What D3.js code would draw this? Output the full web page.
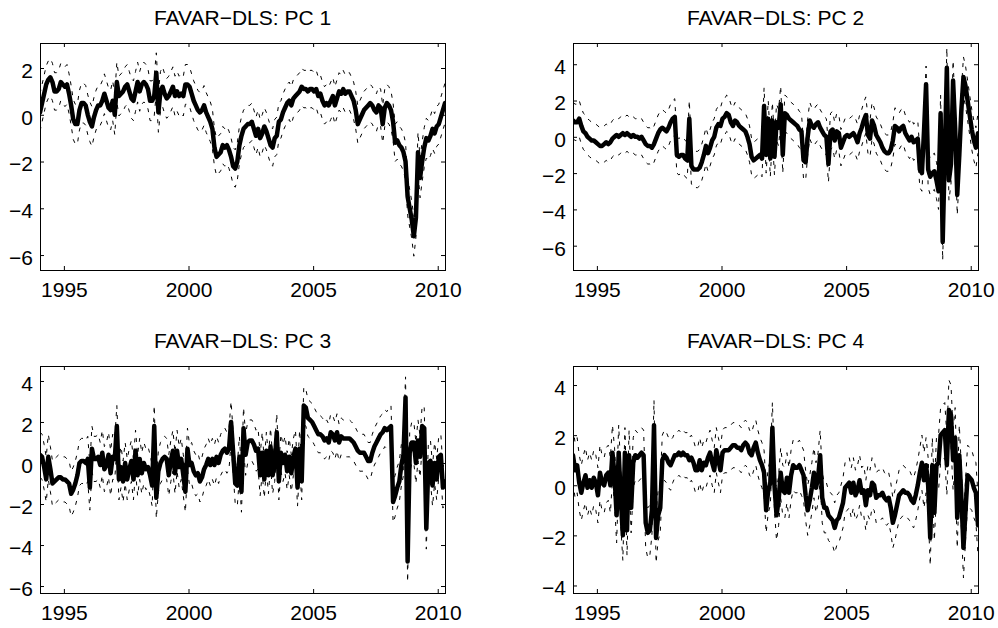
<!DOCTYPE html>
<html>
<head>
<meta charset="utf-8">
<script src="https://cdn.jsdelivr.net/npm/d3@7"></script>
<style>
  body { margin: 0; background: #fff; }
  svg { display: block; }
  text { font-family: "Liberation Sans", Arial, Helvetica, sans-serif; fill: #000; }
</style>
</head>
<body>
<svg id="chart" width="998" height="628"></svg>
<script>
// ---------------- DATA (monthly, first observation Jan 1994) ----------------
const startYear = 1994;

const pc1 = [
  0.1, 0.5, 0.9, 1.3, 1.5, 1.6, 1.4, 1.0, 1.0, 1.1, 1.4, 1.3,
  1.2, 1.3, 0.9, 0.4, -0.2, -0.4, -0.4, 0.2, 0.5, 0.5, 0.4, 0.0,
  -0.3, -0.5, -0.1, 0.2, 0.4, 0.4, 0.6, 0.9, 0.6, 0.3, 0.2, 0.6,
  0.0, 1.4, 0.8, 0.9, 1.0, 1.2, 1.3, 1.0, 0.7, 0.6, 1.0, 1.4,
  1.0, 1.3, 1.4, 1.3, 1.1, 0.6, 0.6, 0.8, 1.8, 0.1, 1.0, 1.2,
  0.9, 0.7, 0.8, 1.0, 1.2, 0.8, 1.0, 0.8, 0.9, 0.8, 1.3, 1.3,
  1.2, 0.9, 0.6, 0.4, 0.2, 0.1, 0.2, 0.4, 0.1, -0.1, -0.3, -0.6,
  -1.4, -1.8, -1.7, -1.6, -1.3, -1.4, -1.3, -1.5, -1.8, -2.2, -2.3, -2.0,
  -1.3, -0.9, -0.6, -0.5, -0.4, -0.4, -0.3, -0.6, -0.9, -0.6, -1.0, -0.8,
  -0.5, -0.7, -1.0, -1.3, -1.4, -1.0, -0.9, -0.3, -0.2, 0.1, 0.3, 0.5,
  0.6, 0.4, 0.7, 0.8, 0.9, 1.0, 1.2, 1.1, 1.1, 1.0, 1.1, 1.1,
  1.0, 1.1, 0.8, 0.9, 0.6, 0.4, 0.5, 0.4, 0.6, 0.8, 0.4, 0.7,
  1.0, 0.9, 1.1, 0.9, 1.0, 1.0, 0.8, 0.6, 0.2, -0.4, -0.2, 0.0,
  0.2, 0.3, 0.4, 0.5, 0.4, 0.2, 0.1, 0.4, 0.3, -0.4, 0.3, 0.5,
  0.4, 0.2, -0.3, -1.2, -1.1, -1.3, -1.4, -1.6, -2.0, -3.5, -4.0, -4.5,
  -5.2, -4.4, -1.6, -2.7, -2.0, -1.4, -1.0, -1.1, -0.9, -0.6, -0.8, -0.5,
  -0.4, -0.1, 0.2, 0.5
];

const pc2 = [
  0.9, 0.8, 0.8, 1.0, 0.6, 0.3, 0.2, 0.0, -0.1, -0.2, -0.2, -0.3,
  -0.4, -0.5, -0.5, -0.4, -0.3, -0.4, -0.3, -0.1, 0.0, 0.1, 0.0, 0.1,
  0.2, 0.1, 0.2, 0.1, 0.0, 0.1, 0.0, 0.0, -0.1, 0.0, -0.2, -0.4,
  -0.5, -0.5, -0.6, -0.4, -0.1, 0.2, 0.4, 0.5, 0.4, 0.3, 0.5, 0.8,
  1.0, 1.1, -1.0, -1.1, -1.0, -1.0, -1.2, -1.3, 1.0, -1.6, -1.8, -1.8,
  -1.8, -1.7, -1.4, -1.0, -0.5, -0.9, -0.6, -0.2, 0.0, 0.5, 0.7, 0.6,
  1.0, 1.1, 1.3, 1.2, 0.8, 0.6, 0.9, 0.8, 0.6, 0.5, 0.4, 0.3,
  0.0, -0.4, -1.1, -1.3, -1.2, -1.1, -1.0, -1.2, 1.7, -1.0, 1.0, -1.2,
  0.9, -1.1, 0.8, 0.5, 1.8, -1.0, 1.3, 1.2, 1.0, 0.9, 0.8, 0.7,
  0.6, 0.4, 0.3, -1.3, -1.4, 0.0, 0.9, 0.6, 0.5, 0.7, 0.8, 0.5,
  0.3, 0.1, 0.0, -1.5, 0.3, 0.4, -0.2, 0.3, 0.2, -0.6, -0.3, 0.0,
  0.1, 0.0, 0.1, 0.2, 0.0, -0.3, 0.2, 0.5, 0.9, 1.2, 0.1, -0.1,
  0.9, 0.6, 0.1, -0.1, -0.3, -0.6, -0.8, -0.9, -0.9, -0.7, -0.2, 0.6,
  0.5, 0.3, 0.5, 0.6, 0.2, 0.0, -0.2, 0.0, -0.3, -0.2, -0.1, -1.8,
  -2.0, 0.3, 2.9, -1.8, -2.2, -2.0, -1.9, -2.4, -3.0, 1.3, -5.8, -1.0,
  3.8, -2.4, -1.5, 3.1, 0.5, -3.2, -1.0, 1.5, 3.3, 2.8, 2.0, 1.2,
  0.4, -0.2, -0.6, 0.2
];

const pc3 = [
  0.4, 0.3, -0.2, -0.8, 0.3, -0.3, -1.0, -0.9, -0.8, -0.7, -0.7, -0.8,
  -0.8, -0.9, -1.0, -1.5, -1.3, -1.0, -0.6, 0.0, 0.1, 0.1, 0.0, 0.2,
  -1.2, 0.7, 0.2, 0.2, 0.3, -0.1, 0.5, -0.3, -0.1, 0.4, -0.5, 0.3,
  0.2, 1.8, -0.8, -0.2, -0.9, 0.0, -0.8, -0.3, 0.1, -0.8, 0.6, -0.6,
  0.2, -0.5, 0.0, -0.3, -0.2, -0.6, -1.1, 1.8, -1.7, -0.4, 0.0, 0.2,
  0.3, 0.2, -0.6, 0.1, 0.6, -0.5, 0.6, -0.2, 0.2, -0.6, -1.4, 0.7,
  -0.1, 0.0, -0.4, -0.6, -0.5, -0.9, -0.7, -0.3, -0.1, 0.2, -0.1, 0.2,
  -0.1, 0.3, 0.0, 0.4, 0.6, 0.7, 0.5, 0.7, 2.0, 0.5, -1.0, -1.1,
  0.3, -1.4, 1.7, 0.4, 1.0, 1.1, 1.1, 0.9, 0.6, 0.7, -0.6, 0.5,
  -0.8, 0.6, -0.6, 0.8, -0.6, 0.0, 1.5, -0.9, 0.5, 0.0, 0.4, -0.4,
  0.3, -0.5, 0.3, 0.7, -1.2, 0.7, -0.9, 2.8, 2.7, 2.2, 2.1, 2.0,
  1.8, 1.6, 1.4, 1.4, 1.3, 1.1, 1.2, 1.0, 1.5, 1.4, 1.1, 1.5,
  1.0, 1.3, 1.2, 1.2, 1.2, 1.2, 1.1, 1.0, 0.8, 0.6, 0.5, 0.5,
  0.5, 0.3, 0.1, 0.1, 0.5, 0.8, 1.0, 1.2, 1.4, 1.5, 1.7, 1.6,
  1.7, 1.8, -1.9, -1.6, -1.2, -0.9, -0.1, 0.4, 3.2, -4.8, 0.5, 1.0,
  1.0, 0.0, 1.1, 0.3, 1.8, 1.7, -3.2, 0.0, 0.1, -1.1, 0.0, -0.8,
  0.3, 0.4, -1.2, -0.9
];

const pc4 = [
  1.2, 0.6, 0.8, 0.1, -0.3, 0.1, 0.4, -0.1, 0.2, -0.1, 0.3, 0.1,
  -0.4, 0.5, 0.1, 0.0, 0.4, 0.5, 0.0, 1.3, 0.4, -1.2, 1.3, -0.5,
  -2.0, 1.3, -1.8, 1.2, -0.9, 0.9, 1.2, 1.1, 1.2, 1.3, 1.2, -1.5,
  -1.9, -1.8, -1.0, 2.4, -2.1, -1.2, -0.9, 1.0, 1.2, 1.1, 0.9, 0.8,
  1.0, 1.2, 1.2, 1.3, 1.2, 1.3, 1.2, 1.2, 1.0, 1.1, 0.9, 0.6,
  0.6, 1.0, 0.6, 0.9, 0.8, 1.1, 1.3, 0.9, 0.6, 1.4, 1.0, 0.6,
  1.3, 1.4, 1.4, 1.4, 1.5, 1.6, 1.6, 1.5, 1.5, 1.4, 1.6, 1.7,
  1.6, 1.3, 1.2, 1.5, 1.7, 1.3, 1.0, 0.8, 0.5, -1.0, -0.2, 0.1,
  2.3, 0.0, -1.2, -0.6, 0.5, -0.2, -0.3, 0.3, -0.3, 0.4, 0.8, 0.7,
  0.7, 0.8, 0.6, 0.4, -0.4, -1.0, -0.6, -0.1, 0.5, -0.1, 0.3, 1.2,
  -0.5, -0.9, -0.9, -1.2, -1.3, -1.4, -1.7, -1.4, -1.3, -1.0, -0.7, -0.1,
  0.0, 0.1, -0.3, 0.1, -0.4, -0.2, 0.2, -0.3, -0.2, -0.8, -0.2, -0.4,
  0.1, 0.0, -0.5, -0.4, -0.4, -0.3, -0.5, -0.6, -0.5, -0.9, -1.5, -1.2,
  -0.8, -0.4, -0.3, -0.2, -0.3, -0.3, -0.4, -0.6, -0.7, -0.4, 0.0, 0.5,
  0.9, 0.2, 0.8, 0.0, -2.1, 0.8, -1.1, 0.8, 0.9, 2.0, 2.1, 2.2,
  0.8, 3.0, 2.8, 1.0, 1.9, -1.3, 1.2, -0.5, -2.5, -1.0, 0.4, 0.3,
  0.2, -0.1, -0.3, -1.6
];

// half-width of the dashed confidence band, one value per calendar year (1994..2010)
const band1 = [0.8, 0.85, 0.85, 0.85, 0.85, 0.85, 0.85, 0.8, 0.8, 0.8, 0.8, 0.8, 0.8, 0.8, 0.8, 0.85, 0.85];
const band2 = [1.0, 1.0, 1.0, 1.0, 1.0, 1.0, 1.0, 1.0, 1.0, 1.0, 1.0, 1.0, 1.0, 1.0, 1.0, 1.1, 1.1];
const band3 = [1.1, 1.1, 1.1, 1.0, 1.0, 1.0, 1.0, 1.0, 1.0, 0.9, 0.9, 0.9, 0.9, 0.9, 1.0, 1.0, 1.0];
const band4 = [1.1, 1.1, 1.0, 1.0, 0.9, 0.9, 0.9, 0.9, 1.0, 1.0, 1.0, 1.0, 1.0, 1.0, 1.1, 1.2, 1.2];

const titles = ["FAVAR\u2212DLS: PC 1", "FAVAR\u2212DLS: PC 2", "FAVAR\u2212DLS: PC 3", "FAVAR\u2212DLS: PC 4"];
const xTickValues = [1995, 2000, 2005, 2010];
const yTicks1 = [-6, -4, -2, 0, 2];
const yTicks2 = [-6, -4, -2, 0, 2, 4];
const yTicks3 = [-6, -4, -2, 0, 2, 4];
const yTicks4 = [-4, -2, 0, 2, 4];
const yLimits1 = [-6.64, 3.07];
const yLimits2 = [-7.34, 5.17];
const yLimits3 = [-6.34, 4.73];
const yLimits4 = [-4.30, 4.76];

// ---------------- LAYOUT ----------------
const W = 405, H = 227;
const panels = [
  { title: titles[0], values: pc1, band: band1, yLim: yLimits1, yTicks: yTicks1, left: 40,  top: 43 },
  { title: titles[1], values: pc2, band: band2, yLim: yLimits2, yTicks: yTicks2, left: 573, top: 43 },
  { title: titles[2], values: pc3, band: band3, yLim: yLimits3, yTicks: yTicks3, left: 40,  top: 366 },
  { title: titles[3], values: pc4, band: band4, yLim: yLimits4, yTicks: yTicks4, left: 573, top: 366 }
];

const svg = d3.select("#chart");
const FONT = 21;

panels.forEach((p, k) => {
  const g = svg.append("g").attr("transform", `translate(${p.left},${p.top})`);
  const dates = p.values.map((v, i) => startYear + (i + 0.5) / 12);
  const x = d3.scaleLinear().domain([dates[0], dates[dates.length - 1]]).range([0, W]);
  const y = d3.scaleLinear().domain(p.yLim).range([H, 0]);

  const clipId = "clip" + k;
  g.append("clipPath").attr("id", clipId)
    .append("rect").attr("x", 0).attr("y", 0).attr("width", W).attr("height", H);

  const upper = p.values.map((v, i) => v + p.band[Math.floor(i / 12)]);
  const lower = p.values.map((v, i) => v - p.band[Math.floor(i / 12)]);

  const line = d3.line().x((d, i) => x(dates[i])).y(d => y(d));
  const plot = g.append("g").attr("clip-path", `url(#${clipId})`);

  [upper, lower].forEach(series => {
    plot.append("path").datum(series)
      .attr("d", line)
      .attr("fill", "none")
      .attr("stroke", "#000")
      .attr("stroke-width", 1)
      .attr("stroke-dasharray", "4,6");
  });

  plot.append("path").datum(p.values)
    .attr("d", line)
    .attr("fill", "none")
    .attr("stroke", "#000")
    .attr("stroke-width", 4.5)
    .attr("stroke-linejoin", "round")
    .attr("stroke-linecap", "round");

  // axes
  const fmt = d3.format("d");
  const bottom = g.append("g").attr("transform", `translate(0,${H})`)
    .call(d3.axisBottom(x).tickValues(xTickValues).tickSize(-4).tickSizeOuter(0).tickFormat(fmt));
  bottom.selectAll("text").attr("y", 12).attr("font-size", FONT);
  const top = g.append("g")
    .call(d3.axisTop(x).tickValues(xTickValues).tickSize(-4).tickSizeOuter(0).tickFormat(""));
  const left = g.append("g")
    .call(d3.axisLeft(y).tickValues(p.yTicks).tickSize(-4).tickSizeOuter(0).tickPadding(7).tickFormat(fmt));
  left.selectAll("text").attr("dy", "0.45em").attr("font-size", FONT);
  const right = g.append("g").attr("transform", `translate(${W},0)`)
    .call(d3.axisRight(y).tickValues(p.yTicks).tickSize(-4).tickSizeOuter(0).tickFormat(""));
  [bottom, top, left, right].forEach(a => {
    a.select(".domain").remove();
    a.attr("font-family", null);
    a.selectAll("line").attr("stroke", "#000");
  });

  g.append("rect")
    .attr("x", 0.5).attr("y", 0.5).attr("width", W).attr("height", H)
    .attr("fill", "none").attr("stroke", "#000").attr("stroke-width", 1);

  g.append("text")
    .attr("x", W / 2).attr("y", -18)
    .attr("text-anchor", "middle")
    .attr("font-size", FONT)
    .text(p.title);
});
</script>
</body>
</html>
